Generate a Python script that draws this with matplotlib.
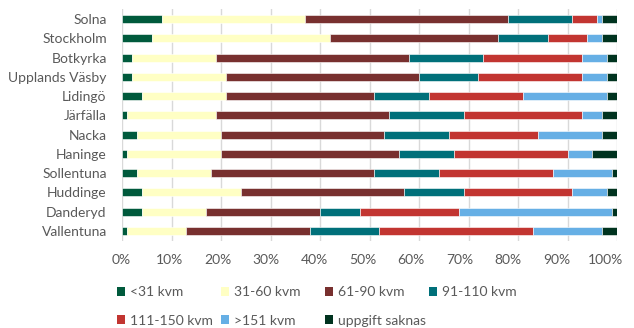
import matplotlib.pyplot as plt
import matplotlib.transforms as mtransforms
from matplotlib.patches import Patch
import numpy as np

# kommuner, uppifrån och ned
kommuner = ["Solna", "Stockholm", "Botkyrka", "Upplands Väsby", "Lidingö", "Järfälla",
            "Nacka", "Haninge", "Sollentuna", "Huddinge", "Danderyd", "Vallentuna"]

# andel (%) per storleksklass
under31 = [8, 6, 2, 2, 4, 1, 3, 1, 3, 4, 4, 1]
kvm31_60 = [29, 36, 17, 19, 17, 18, 17, 19, 15, 20, 13, 12]
kvm61_90 = [41, 34, 39, 39, 30, 35, 33, 36, 33, 33, 23, 25]
kvm91_110 = [13, 10, 15, 12, 11, 15, 13, 11, 13, 12, 8, 14]
kvm111_150 = [5, 8, 20, 21, 19, 24, 18, 23, 23, 22, 20, 31]
over151 = [1, 3, 5, 5, 17, 4, 13, 5, 12, 7, 31, 14]
saknas = [3, 3, 2, 2, 2, 3, 3, 5, 1, 2, 1, 3]

serier = ["<31 kvm", "31-60 kvm", "61-90 kvm", "91-110 kvm",
          "111-150 kvm", ">151 kvm", "uppgift saknas"]
farger = ["#005A3C", "#FFFFC4", "#78302F", "#00707A", "#C23531", "#66AFE5", "#00331F"]

plt.rcParams['font.family'] = ['Lato', 'DejaVu Sans']
textfarg = "#595959"
fs = 10

fig = plt.figure(figsize=(6.34, 3.28), dpi=100)
ax = fig.add_axes([122 / 634, 1 - 240.6 / 328, 495 / 634, 231.2 / 328])

y = np.arange(len(kommuner))
left = np.zeros(len(kommuner))
for vals, namn, farg in zip([under31, kvm31_60, kvm61_90, kvm91_110, kvm111_150, over151, saknas],
                            serier, farger):
    ax.barh(y, vals, left=left, height=0.42, color=farg, edgecolor="white",
            linewidth=0.4, label=namn, zorder=3)
    left += np.array(vals)

ax.set_xlim(0, 100)
ax.set_ylim(len(kommuner) - 0.5, -0.5)
ax.set_yticks(y)
ax.set_yticklabels(kommuner, fontsize=fs, color=textfarg)
xt = np.arange(0, 101, 10)
ax.set_xticks(xt)
ax.set_xticklabels([f"{v}%" for v in xt], fontsize=fs, color=textfarg)
ax.tick_params(axis="y", length=0, pad=11)
ax.tick_params(axis="x", length=0, pad=10)
ax.grid(axis="x", color="#D9D9D9", linewidth=1, zorder=0)
for s in ax.spines.values():
    s.set_visible(False)

# excel lägger etiketterna lite till vänster om stödlinjerna
for v, lab in zip(xt, ax.get_xticklabels()):
    dx = -(1.3 + 0.107 * v) / 100
    lab.set_transform(lab.get_transform() + mtransforms.ScaledTranslation(dx, 0, fig.dpi_scale_trans))

# legend i fyra kolumner med fast bredd
kolumner = [[0, 4], [1, 5], [2, 6], [3]]
xstart = [117, 221, 325, 429]
for idx, x0 in zip(kolumner, xstart):
    handles = [Patch(facecolor=farger[i], edgecolor="none") for i in idx]
    labels = [serier[i] for i in idx]
    leg = fig.legend(handles, labels, loc="upper left",
                     bbox_to_anchor=(x0 / 634, 1 - 286 / 328),
                     frameon=False, fontsize=fs, handlelength=0.6, handleheight=0.6,
                     handletextpad=0.3, labelspacing=1.2, borderpad=0, borderaxespad=0)
    for t in leg.get_texts():
        t.set_color(textfarg)

fig.savefig("out.png", dpi=100)
